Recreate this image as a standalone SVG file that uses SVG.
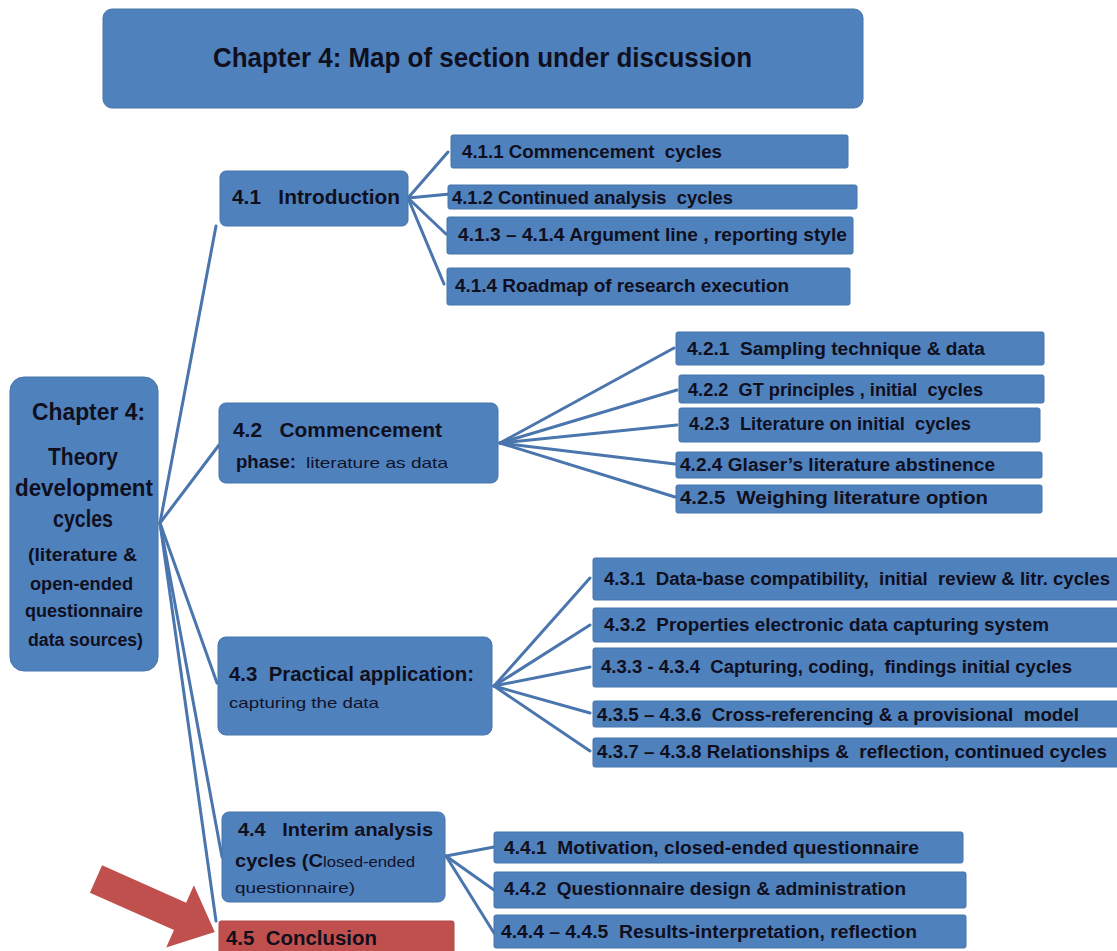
<svg xmlns="http://www.w3.org/2000/svg" width="1117" height="951" viewBox="0 0 1117 951">
  <defs>
    <style>
      .box { fill: #4f81bd; stroke: #4674ab; stroke-width: 1; }
      .red { fill: #c0504d; stroke: #b04845; stroke-width: 1; }
      text { white-space: pre; }
      .t { font-family: "Liberation Sans", Arial, sans-serif; font-weight: bold; fill: #0f0f1e; }
      .r { font-family: "Liberation Sans", Arial, sans-serif; font-weight: normal; fill: #12122a; }
      .conn line { stroke: #4a75ad; stroke-width: 3; stroke-linecap: round; }
    </style>
  </defs>
  <rect x="0" y="0" width="1117" height="951" fill="#ffffff"/>

  <!-- connectors -->
  <g id="connectors" class="conn">
    <!-- root to sections -->
    <line x1="160" y1="523" x2="216" y2="226"/>
    <line x1="160" y1="523" x2="219" y2="445"/>
    <line x1="160" y1="523" x2="217" y2="683"/>
    <line x1="160" y1="523" x2="222" y2="857"/>
    <line x1="160" y1="523" x2="216" y2="921"/>
    <!-- 4.1 -->
    <line x1="408" y1="198" x2="448" y2="152"/>
    <line x1="408" y1="198" x2="450" y2="194"/>
    <line x1="408" y1="198" x2="446" y2="234"/>
    <line x1="408" y1="198" x2="444" y2="284"/>
    <!-- 4.2 -->
    <line x1="500" y1="443" x2="674" y2="348"/>
    <line x1="500" y1="443" x2="677" y2="390"/>
    <line x1="500" y1="443" x2="677" y2="425"/>
    <line x1="500" y1="443" x2="675" y2="464"/>
    <line x1="500" y1="443" x2="675" y2="497"/>
    <!-- 4.3 -->
    <line x1="494" y1="686" x2="590" y2="578"/>
    <line x1="494" y1="686" x2="590" y2="625"/>
    <line x1="494" y1="686" x2="590" y2="667"/>
    <line x1="494" y1="686" x2="590" y2="713"/>
    <line x1="494" y1="686" x2="590" y2="751"/>
    <!-- 4.4 -->
    <line x1="446" y1="856" x2="494" y2="847"/>
    <line x1="446" y1="856" x2="494" y2="890"/>
    <line x1="446" y1="856" x2="494" y2="933"/>
  </g>

  <!-- title -->
  <g id="title">
    <rect class="box" x="103" y="9" width="760" height="99" rx="9"/>
    <text class="t" x="213" y="67" font-size="27" textLength="539" lengthAdjust="spacingAndGlyphs">Chapter 4: Map of section under discussion</text>
  </g>

  <!-- root -->
  <g id="root">
    <rect class="box" x="10" y="377" width="148" height="294" rx="14"/>
    <text class="t" x="32" y="420" font-size="23" textLength="113" lengthAdjust="spacingAndGlyphs">Chapter 4:</text>
    <text class="t" x="48" y="465" font-size="23" textLength="70" lengthAdjust="spacingAndGlyphs">Theory</text>
    <text class="t" x="15" y="496" font-size="23" textLength="138" lengthAdjust="spacingAndGlyphs">development</text>
    <text class="t" x="53" y="527" font-size="23" textLength="60" lengthAdjust="spacingAndGlyphs">cycles</text>
    <text class="t" x="28" y="561" font-size="18" textLength="109" lengthAdjust="spacingAndGlyphs">(literature &amp;</text>
    <text class="t" x="30" y="590" font-size="18" textLength="103" lengthAdjust="spacingAndGlyphs">open-ended</text>
    <text class="t" x="25" y="617" font-size="18" textLength="118" lengthAdjust="spacingAndGlyphs">questionnaire</text>
    <text class="t" x="28" y="646" font-size="18" textLength="115" lengthAdjust="spacingAndGlyphs">data sources)</text>
  </g>

  <!-- 4.1 -->
  <g id="s41">
    <rect class="box" x="220" y="171" width="188" height="55" rx="6"/>
    <text class="t" x="232" y="204" font-size="20" textLength="168" lengthAdjust="spacingAndGlyphs">4.1   Introduction</text>
  </g>
  <g id="s411">
    <rect class="box" x="451" y="135" width="397" height="33" rx="2"/>
    <text class="t" x="462" y="158" font-size="18" textLength="260" lengthAdjust="spacingAndGlyphs">4.1.1 Commencement  cycles</text>
  </g>
  <g id="s412">
    <rect class="box" x="448" y="185" width="409" height="24" rx="2"/>
    <text class="t" x="452" y="204" font-size="18" textLength="281" lengthAdjust="spacingAndGlyphs">4.1.2 Continued analysis  cycles</text>
  </g>
  <g id="s413">
    <rect class="box" x="447" y="217" width="406" height="37" rx="2"/>
    <text class="t" x="458" y="241" font-size="18" textLength="389" lengthAdjust="spacingAndGlyphs">4.1.3 – 4.1.4 Argument line , reporting style</text>
  </g>
  <g id="s414">
    <rect class="box" x="447" y="268" width="403" height="37" rx="2"/>
    <text class="t" x="455" y="292" font-size="18" textLength="334" lengthAdjust="spacingAndGlyphs">4.1.4 Roadmap of research execution</text>
  </g>

  <!-- 4.2 -->
  <g id="s42">
    <rect class="box" x="219" y="403" width="279" height="80" rx="7"/>
    <text class="t" x="233" y="437" font-size="20" textLength="209" lengthAdjust="spacingAndGlyphs">4.2   Commencement</text>
    <text class="t" x="236" y="468" font-size="18" textLength="60" lengthAdjust="spacingAndGlyphs">phase:</text>
    <text class="r" x="306" y="468" font-size="15" textLength="142" lengthAdjust="spacingAndGlyphs">literature as data</text>
  </g>
  <g id="s421">
    <rect class="box" x="676" y="332" width="368" height="33" rx="2"/>
    <text class="t" x="687" y="355" font-size="18" textLength="298" lengthAdjust="spacingAndGlyphs">4.2.1  Sampling technique &amp; data</text>
  </g>
  <g id="s422">
    <rect class="box" x="679" y="375" width="365" height="28" rx="2"/>
    <text class="t" x="688" y="396" font-size="18" textLength="295" lengthAdjust="spacingAndGlyphs">4.2.2  GT principles , initial  cycles</text>
  </g>
  <g id="s423">
    <rect class="box" x="679" y="408" width="361" height="34" rx="2"/>
    <text class="t" x="689" y="430" font-size="18" textLength="282" lengthAdjust="spacingAndGlyphs">4.2.3  Literature on initial  cycles</text>
  </g>
  <g id="s424">
    <rect class="box" x="676" y="452" width="366" height="26" rx="2"/>
    <text class="t" x="680" y="471" font-size="18" textLength="315" lengthAdjust="spacingAndGlyphs">4.2.4 Glaser’s literature abstinence</text>
  </g>
  <g id="s425">
    <rect class="box" x="676" y="485" width="366" height="28" rx="2"/>
    <text class="t" x="680" y="504" font-size="18" textLength="308" lengthAdjust="spacingAndGlyphs">4.2.5  Weighing literature option</text>
  </g>

  <!-- 4.3 -->
  <g id="s43">
    <rect class="box" x="218" y="637" width="274" height="98" rx="8"/>
    <text class="t" x="229" y="681" font-size="20" textLength="245" lengthAdjust="spacingAndGlyphs">4.3  Practical application:</text>
    <text class="r" x="229" y="708" font-size="15" textLength="150" lengthAdjust="spacingAndGlyphs">capturing the data</text>
  </g>
  <g id="s431">
    <rect class="box" x="593" y="558" width="530" height="42" rx="2"/>
    <text class="t" x="604" y="585" font-size="18" textLength="506" lengthAdjust="spacingAndGlyphs">4.3.1  Data-base compatibility,  initial  review &amp; litr. cycles</text>
  </g>
  <g id="s432">
    <rect class="box" x="593" y="608" width="530" height="34" rx="2"/>
    <text class="t" x="604" y="631" font-size="18" textLength="445" lengthAdjust="spacingAndGlyphs">4.3.2  Properties electronic data capturing system</text>
  </g>
  <g id="s433">
    <rect class="box" x="593" y="648" width="530" height="39" rx="2"/>
    <text class="t" x="601" y="673" font-size="18" textLength="471" lengthAdjust="spacingAndGlyphs">4.3.3 - 4.3.4  Capturing, coding,  findings initial cycles</text>
  </g>
  <g id="s435">
    <rect class="box" x="593" y="701" width="530" height="26" rx="2"/>
    <text class="t" x="597" y="721" font-size="18" textLength="482" lengthAdjust="spacingAndGlyphs">4.3.5 – 4.3.6  Cross-referencing &amp; a provisional  model</text>
  </g>
  <g id="s437">
    <rect class="box" x="593" y="738" width="530" height="29" rx="2"/>
    <text class="t" x="597" y="758" font-size="18" textLength="510" lengthAdjust="spacingAndGlyphs">4.3.7 – 4.3.8 Relationships &amp;  reflection, continued cycles</text>
  </g>

  <!-- 4.4 -->
  <g id="s44">
    <rect class="box" x="222" y="812" width="223" height="90" rx="7"/>
    <text class="t" x="238" y="836" font-size="19" textLength="195" lengthAdjust="spacingAndGlyphs">4.4   Interim analysis</text>
    <text class="t" x="235" y="867" font-size="19" textLength="88" lengthAdjust="spacingAndGlyphs">cycles (C</text>
    <text class="r" x="323" y="867" font-size="15" textLength="92" lengthAdjust="spacingAndGlyphs">losed-ended</text>
    <text class="r" x="235" y="893" font-size="15" textLength="120" lengthAdjust="spacingAndGlyphs">questionnaire)</text>
  </g>
  <g id="s441">
    <rect class="box" x="494" y="832" width="469" height="31" rx="2"/>
    <text class="t" x="504" y="854" font-size="18" textLength="415" lengthAdjust="spacingAndGlyphs">4.4.1  Motivation, closed-ended questionnaire</text>
  </g>
  <g id="s442">
    <rect class="box" x="494" y="872" width="472" height="36" rx="2"/>
    <text class="t" x="504" y="895" font-size="18" textLength="402" lengthAdjust="spacingAndGlyphs">4.4.2  Questionnaire design &amp; administration</text>
  </g>
  <g id="s444">
    <rect class="box" x="494" y="915" width="472" height="33" rx="2"/>
    <text class="t" x="501" y="938" font-size="18" textLength="416" lengthAdjust="spacingAndGlyphs">4.4.4 – 4.4.5  Results-interpretation, reflection</text>
  </g>

  <!-- 4.5 -->
  <g id="s45">
    <rect class="red" x="219" y="921" width="235" height="40" rx="2"/>
    <text class="t" x="226" y="945" font-size="20" textLength="151" lengthAdjust="spacingAndGlyphs">4.5  Conclusion</text>
  </g>

  <!-- pointer arrow -->
  <g id="pointer">
    <polygon fill="#c0504d" transform="translate(96,879) rotate(24)" points="0,-15 92,-15 92,-34 130,0 92,34 92,15 0,15"/>
  </g>
</svg>
